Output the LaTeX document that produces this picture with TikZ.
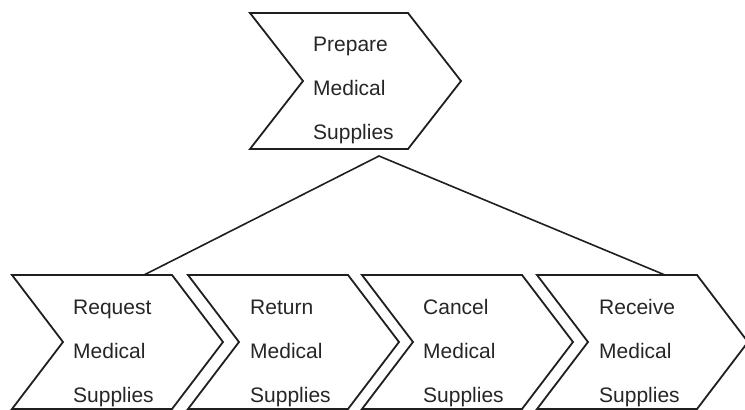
\documentclass[tikz,border=0pt]{standalone}
\usepackage{fontspec}
\setmainfont{Liberation Sans}

% A chevron: #1 name, #2 left x, #3 top y, #4 height, #5 body width, #6 point depth
\newcommand\chevronshape[6]{%
  \draw[chev] (#2,#3) coordinate (#1-nw) -- ++(#5,0) coordinate (#1-ne)
    -- ++(#6,#4/2) coordinate (#1-tip) -- ++(-#6,#4/2) coordinate (#1-se)
    -- ++(-#5,0) coordinate (#1-sw) -- ++(#6,-#4/2) coordinate (#1-notch) -- cycle;
}

\begin{document}
\begin{tikzpicture}[x=1pt,y=-1pt,
  chev/.style={draw=black!88, line width=1.8pt, line join=miter},
  lbl/.style={font=\fontsize{21}{44}\selectfont, text=black!85, align=left,
              anchor=base west, inner sep=0pt},
  link/.style={draw=black!88, line width=1.6pt}]
\useasboundingbox (0,0) rectangle (745,410);

% parent step (label anchored at the baseline of its last line)
\chevronshape{prep}{250}{13}{136}{158}{53}
\node[lbl] (prepT) at (313,139) {Prepare\\Medical\\Supplies};

% child steps
\chevronshape{req}{12}{275}{134}{160}{51}
\chevronshape{ret}{188}{275}{134}{160}{51}
\chevronshape{can}{362}{275}{134}{160}{51}
\chevronshape{rec}{537}{275}{134}{160}{51}
\node[lbl] (reqT) at (73,402) {Request\\Medical\\Supplies};
\node[lbl] (retT) at (250,402) {Return\\Medical\\Supplies};
\node[lbl] (canT) at (423,402) {Cancel\\Medical\\Supplies};
\node[lbl] (recT) at (599,402) {Receive\\Medical\\Supplies};

% decomposition links
\coordinate (apex) at (379,156);
\coordinate (reqJoin) at (144,275);
\coordinate (recJoin) at (665,275);
\draw[link] (reqJoin) -- (apex) -- (recJoin);
\end{tikzpicture}
\end{document}
